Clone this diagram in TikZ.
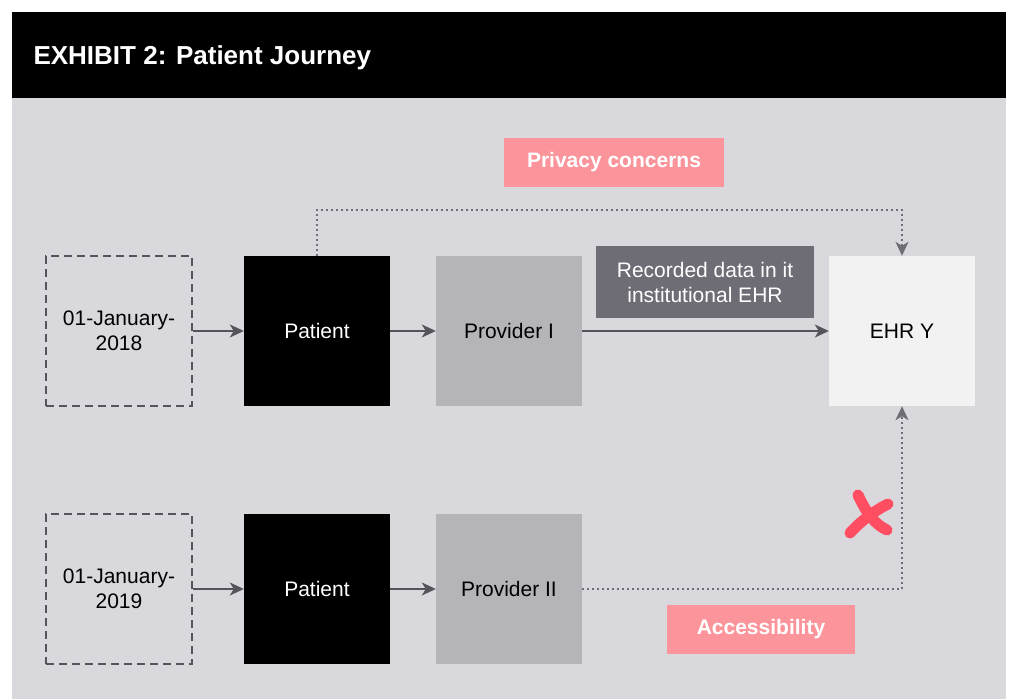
\documentclass[tikz,border=0pt]{standalone}
\usepackage{fontspec}
\setmainfont{Liberation Sans}
\usepackage{tikz}
\usetikzlibrary{arrows.meta, positioning}
\definecolor{bgcolor}{RGB}{217, 216, 220}
\definecolor{providercolor}{RGB}{181, 180, 184}
\definecolor{ehrcolor}{RGB}{242, 242, 242}
\definecolor{notecolor}{RGB}{110, 109, 117}
\definecolor{linecolor}{RGB}{85, 84, 91}
\definecolor{dotcolor}{RGB}{111, 110, 118}
\definecolor{issuecolor}{RGB}{251, 148, 155}
\definecolor{crosscolor}{RGB}{255, 77, 98}
\tikzstyle{datebox} = [rectangle, minimum width=146pt, minimum height=150pt, align=center, draw=linecolor, line width=2pt, dash pattern=on 8pt off 5pt]
\tikzstyle{patientbox} = [rectangle, minimum width=146pt, minimum height=150pt, align=center, fill=black, text=white]
\tikzstyle{providerbox} = [rectangle, minimum width=146pt, minimum height=150pt, align=center, fill=providercolor]
\tikzstyle{ehrbox} = [rectangle, minimum width=146pt, minimum height=150pt, align=center, fill=ehrcolor]
\tikzstyle{notebox} = [rectangle, minimum width=218pt, minimum height=72pt, align=center, fill=notecolor, text=white]
\tikzstyle{issuebox} = [rectangle, minimum height=49pt, align=center, fill=issuecolor, text=white, font=\fontsize{21}{25}\selectfont\bfseries]
\tikzstyle{arrow} = [line width=2pt, -{Stealth[length=14pt, width=13pt, inset=4pt]}, draw=linecolor]
\tikzstyle{dotarrow} = [line width=2pt, -{Stealth[length=14pt, width=13pt, inset=4pt]}, draw=dotcolor, dash pattern=on 2pt off 3pt]

\begin{document}
\begin{tikzpicture}[x=1pt, y=-1pt, every node/.style={font=\fontsize{21}{25}\selectfont}]
\useasboundingbox (0,0) rectangle (1010,699);

% Header
\fill[white] (0,0) rectangle (1010,699);
\fill[black] (12,12) rectangle (1006,98);
\fill[bgcolor] (12,98) rectangle (1006,699);
\node (title) [anchor=west, text=white, font=\fontsize{26}{30}\selectfont\bfseries] at (30,58) {EXHIBIT 2: Patient Journey};

% Row 2018
\node (date1) [datebox] at (119,331) {01-January-\\2018};
\node (pat1) [patientbox] at (317,331) {Patient};
\node (prov1) [providerbox] at (509,331) {Provider I};
\node (ehr) [ehrbox] at (902,331) {EHR Y};
\node (rec) [notebox] at (705,282) {Recorded data in it\\institutional EHR};

% Row 2019
\node (date2) [datebox] at (119,589) {01-January-\\2019};
\node (pat2) [patientbox] at (317,589) {Patient};
\node (prov2) [providerbox] at (509,589) {Provider II};

% Issues
\node (privacy) [issuebox, minimum width=220pt] at (614,162) {Privacy concerns};
\node (access) [issuebox, minimum width=188pt] at (761,629) {Accessibility};

% Arrows
\draw [arrow] (date1) -- (pat1);
\draw [arrow] (pat1) -- (prov1);
\draw [arrow] (prov1) -- (ehr);
\draw [arrow] (date2) -- (pat2);
\draw [arrow] (pat2) -- (prov2);
\draw [dotarrow] (pat1.north) -- ++(0,-46) -| (ehr.north);
\draw [dotarrow] (prov2.east) -| (ehr.south);

% Cross
\draw[crosscolor, line width=11pt, line cap=round] (858,495) .. controls (866,512) and (874,524) .. (887,530);
\draw[crosscolor, line width=11pt, line cap=round] (888,504) .. controls (872,512) and (858,524) .. (850,533);

\end{tikzpicture}
\end{document}
